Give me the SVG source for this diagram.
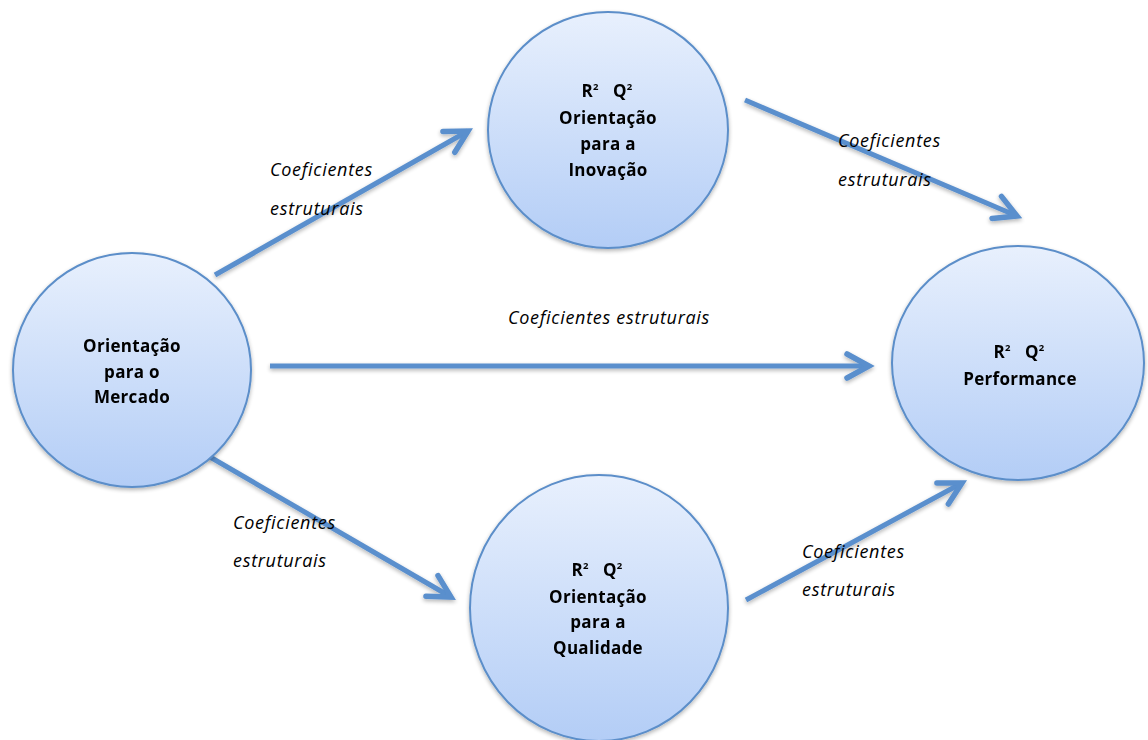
<svg xmlns="http://www.w3.org/2000/svg" width="1148" height="740" viewBox="0 0 1148 740">
  <defs>
    <linearGradient id="bubble" x1="0" y1="0" x2="0" y2="1">
      <stop offset="0" stop-color="#e8f0fd"/>
      <stop offset="1" stop-color="#b3cdf6"/>
    </linearGradient>
    <filter id="soft" x="-20%" y="-20%" width="140%" height="140%">
      <feGaussianBlur in="SourceAlpha" stdDeviation="2"/>
      <feOffset dx="0" dy="2" result="b"/>
      <feComponentTransfer><feFuncA type="linear" slope="0.3"/></feComponentTransfer>
      <feMerge><feMergeNode/><feMergeNode in="SourceGraphic"/></feMerge>
    </filter>
    <marker id="head" markerUnits="userSpaceOnUse" markerWidth="40" markerHeight="40" viewBox="-30 -20 40 40" refX="0" refY="0" orient="auto">
      <polyline points="-22,-12 0,0 -22,12" fill="none" stroke="#5a8fcd" stroke-width="5.5" stroke-linecap="round" stroke-linejoin="miter"/>
    </marker>
  </defs>
  <style>
    .node ellipse { fill: url(#bubble); stroke: #5b8ec9; stroke-width: 2; }
    .node text { font-family: "Open Sans", "Liberation Sans", sans-serif; font-weight: bold; font-size: 17px; letter-spacing: 0.3px; fill: #000; text-anchor: middle; }
    .node .sup { font-size: 9.5px; }
    .edge { fill: none; stroke: #5a8fcd; stroke-width: 5; marker-end: url(#head); }
    .lbl { font-family: "Open Sans", "Liberation Sans", sans-serif; font-style: italic; font-size: 18px; letter-spacing: 0.7px; fill: #000; }
  </style>

  <g id="connectors" filter="url(#soft)">
    <line class="edge" x1="215" y1="275" x2="468" y2="131"/>
    <line class="edge" x1="745" y1="100" x2="1017" y2="216"/>
    <line class="edge" x1="270" y1="366" x2="869" y2="366"/>
    <line class="edge" x1="198" y1="450" x2="451" y2="597"/>
    <line class="edge" x1="746" y1="600" x2="962" y2="483"/>
  </g>

  <g id="labels">
    <text class="lbl" x="270" y="176">Coeficientes</text>
    <text class="lbl" x="270" y="215">estruturais</text>
    <text class="lbl" x="838" y="147">Coeficientes</text>
    <text class="lbl" x="838" y="186">estruturais</text>
    <text class="lbl" x="508" y="324">Coeficientes estruturais</text>
    <text class="lbl" x="233" y="529">Coeficientes</text>
    <text class="lbl" x="233" y="567">estruturais</text>
    <text class="lbl" x="802" y="558">Coeficientes</text>
    <text class="lbl" x="802" y="596">estruturais</text>
  </g>

  <g id="mercado" class="node" filter="url(#soft)">
    <ellipse cx="132" cy="370" rx="119" ry="117"/>
    <text x="132" y="352">Orientação</text>
    <text x="132" y="378">para o</text>
    <text x="132" y="403">Mercado</text>
  </g>

  <g id="inovacao" class="node" filter="url(#soft)">
    <ellipse cx="608" cy="130" rx="120" ry="118"/>
    <text x="607" y="97" xml:space="preserve">R<tspan class="sup" dy="-7">2</tspan><tspan dy="7">   Q</tspan><tspan class="sup" dy="-7">2</tspan></text>
    <text x="608" y="124">Orientação</text>
    <text x="608" y="150">para a</text>
    <text x="608" y="176">Inovação</text>
  </g>

  <g id="performance" class="node" filter="url(#soft)">
    <ellipse cx="1018" cy="363" rx="126" ry="117"/>
    <text x="1019" y="358" xml:space="preserve">R<tspan class="sup" dy="-7">2</tspan><tspan dy="7">   Q</tspan><tspan class="sup" dy="-7">2</tspan></text>
    <text x="1020" y="385">Performance</text>
  </g>

  <g id="qualidade" class="node" filter="url(#soft)">
    <ellipse cx="599" cy="608" rx="129" ry="133"/>
    <text x="597" y="576" xml:space="preserve">R<tspan class="sup" dy="-7">2</tspan><tspan dy="7">   Q</tspan><tspan class="sup" dy="-7">2</tspan></text>
    <text x="598" y="603">Orientação</text>
    <text x="598" y="628">para a</text>
    <text x="598" y="654">Qualidade</text>
  </g>
</svg>
